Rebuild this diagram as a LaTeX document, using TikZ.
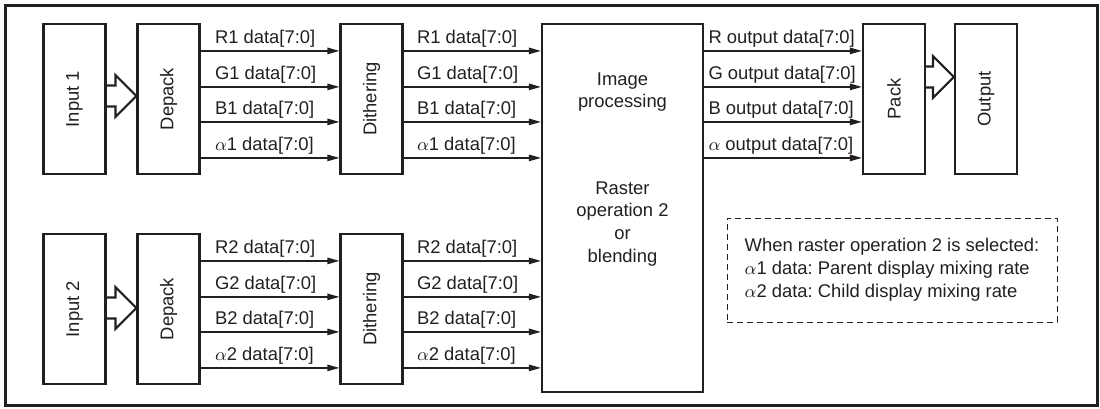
\documentclass[tikz,border=0pt]{standalone}
\usepackage{fontspec}
\setmainfont{Liberation Sans}
\usetikzlibrary{arrows.meta,calc}
\definecolor{ink}{RGB}{35,31,32}
\frenchspacing

\begin{document}
\begin{tikzpicture}[x=0.5pt,y=-0.5pt,color=ink,font=\fontsize{9.2}{11.4}\selectfont,
  blk/.style={draw,line width=1.1pt,inner sep=0pt,minimum width=31pt,minimum height=75pt},
  sig/.style={draw,line width=0.7pt,-{Triangle[length=6pt,width=3.2pt]}},
  lbl/.style={anchor=base west,inner sep=0pt},
  hollow/.style={draw,line width=1.1pt,line join=miter}]
\useasboundingbox (0,0) rectangle (1100,408);
\draw[line width=1.5pt] (5,5) rectangle (1097,405);
\node[blk] (in1) at (74.5,99) {\rotatebox{90}{Input 1}};
\node[blk] (dep1) at (168.5,99) {\rotatebox{90}{Depack}};
\node[blk] (dith1) at (371.5,99) {\rotatebox{90}{Dithering}};
\node[blk] (in2) at (74.5,309) {\rotatebox{90}{Input 2}};
\node[blk] (dep2) at (168.5,309) {\rotatebox{90}{Depack}};
\node[blk] (dith2) at (371.5,309) {\rotatebox{90}{Dithering}};
\node[blk,minimum width=80.5pt,minimum height=184pt] (proc) at (622.5,208) {};
\node[align=center,anchor=north,inner sep=0pt] (proctop) at (622.5,72) {Image\\processing};
\node[align=center,anchor=north,inner sep=0pt] (procbot) at (622.5,181) {Raster\\operation 2\\or\\blending};
\node[blk] (pack) at (894,99) {\rotatebox{90}{Pack}};
\node[blk] (out) at (986,99) {\rotatebox{90}{Output}};
\node[draw,line width=0.5pt,dash pattern=on 3pt off 2pt,align=left,minimum width=165pt,minimum height=52pt,inner sep=0pt] (note) at (892,270) {When raster operation 2 is selected:\\$\alpha$1 data: Parent display mixing rate\\$\alpha$2 data: Child display mixing rate};
\foreach \row in {1,2}{
  \foreach \off/\ch in {28/R,64/G,99/B,135/$\alpha$}{
    \draw[sig] ($(dep\row.north east)+(0,\off)$) coordinate (a\row\off) -- (a\row\off -| dith\row.west);
    \node[lbl] (la\row\off) at ($(a\row\off)+(14,-7)$) {\ch\row{} data[7:0]};
    \draw[sig] ($(dith\row.north east)+(0,\off)$) coordinate (b\row\off) -- (b\row\off -| proc.west);
    \node[lbl] (lb\row\off) at ($(b\row\off)+(13,-7)$) {\ch\row{} data[7:0]};
  }
}
\foreach \off/\ch in {28/R,64/G,99/B,135/$\alpha$}{
  \draw[sig] ($(proc.north east)+(0,\off)$) coordinate (c\off) -- (c\off -| pack.west);
  \node[lbl] (lc\off) at ($(c\off)+(4,-7)$) {\ch{} output data[7:0]};
}
\foreach \src/\dst/\dy in {in1/dep1/-3,in2/dep2/-1,pack/out/-22}{
  \draw[hollow] ($(\src.east)+(0,\dy-10.5)$) -- ($(\dst.west)+(-21,\dy-10.5)$) -- ($(\dst.west)+(-21,\dy-21)$) -- ($(\dst.west)+(0,\dy)$) -- ($(\dst.west)+(-21,\dy+21)$) -- ($(\dst.west)+(-21,\dy+10.5)$) -- ($(\src.east)+(0,\dy+10.5)$);
}
\end{tikzpicture}
\end{document}
